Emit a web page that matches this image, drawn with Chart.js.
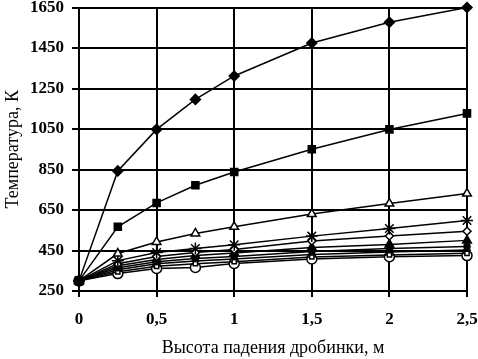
<!DOCTYPE html>
<html>
<head>
<meta charset="utf-8">
<script src="https://cdn.jsdelivr.net/npm/chart.js@4"></script>
<style>
  html, body { margin: 0; padding: 0; background: #fff; }
  #wrap { width: 478px; height: 359px; }
</style>
</head>
<body>
<div id="wrap"><canvas id="chartcanvas" width="478" height="359"></canvas></div>
<script>
// drop heights, m
const heights = [0, 0.25, 0.5, 0.75, 1, 1.5, 2, 2.5];

// temperatures, K
const sDiamond  = [300, 843, 1048, 1196, 1312, 1475, 1577, 1650];
const sSquare   = [300, 567, 685, 772, 838, 950, 1048, 1127];
const sTriOpen  = [300, 435, 492, 534, 567, 630, 682, 731];
const sStar     = [300, 400, 440, 460, 478, 521, 559, 598];
const sDiaOpen  = [300, 385, 420, 440, 455, 497, 522, 545];
const sTriFill  = [300, 375, 405, 425, 438, 465, 480, 500];
const sCircFill = [300, 365, 395, 410, 420, 445, 460, 470];
const sDash     = [300, 355, 385, 398, 408, 430, 443, 452];
const sLine     = [300, 345, 372, 385, 395, 418, 428, 436];
const sCircOpen = [300, 336, 361, 366, 386, 408, 419, 425];

const yTicks = [250, 450, 650, 850, 1050, 1250, 1450, 1650];

const canvas = document.getElementById('chartcanvas');
const ctx = canvas.getContext('2d');

function pts(values){
  return values.map((v, i) => ({x: heights[i], y: v}));
}

function series(values, style, filled, radius){
  return {
    data: pts(values),
    borderColor: '#000',
    borderWidth: 1.5,
    pointStyle: style,
    pointRadius: radius,
    pointBorderWidth: 1.5,
    pointBorderColor: '#000',
    pointBackgroundColor: filled ? '#000' : '#fff',
    tension: 0,
    fill: false
  };
}

const serif = 'Liberation Serif, Times New Roman, serif';

new Chart(ctx, {
  type: 'line',
  data: {
    datasets: [
      series(sDiamond, 'rectRot', true, 5),
      series(sSquare, 'rect', true, 5),
      series(sTriOpen, 'triangle', false, 5),
      series(sStar, 'star', false, 6),
      series(sDiaOpen, 'rectRot', false, 4),
      series(sTriFill, 'triangle', true, 5),
      series(sCircFill, 'circle', true, 3),
      series(sDash, 'line', false, 4),
      series(sLine, 'rect', false, 3),
      series(sCircOpen, 'circle', false, 5)
    ]
  },
  options: {
    responsive: false,
    animation: false,
    clip: false,
    layout: { padding: { top: 7, right: 11, left: 0, bottom: 0 } },
    plugins: { legend: { display: false }, tooltip: { enabled: false } },
    scales: {
      x: {
        type: 'linear',
        min: 0,
        max: 2.5,
        border: { color: '#000', width: 2 },
        grid: { color: '#000', lineWidth: 2, tickLength: 6, tickColor: '#000' },
        ticks: {
          stepSize: 0.5,
          color: '#000',
          padding: 12,
          font: { family: serif, size: 17, weight: 'bold' },
          callback: v => String(v).replace('.', ',')
        },
        title: {
          display: true,
          text: 'Высота падения дробинки, м',
          color: '#000',
          padding: { top: 0, bottom: 0 },
          font: { family: serif, size: 18 }
        },
        afterFit: scale => {
          scale.height = 68;
          scale.paddingLeft = 0;
          scale.paddingRight = 0;
        }
      },
      y: {
        type: 'linear',
        min: 250,
        max: 1650,
        border: { color: '#000', width: 2 },
        grid: { color: '#000', lineWidth: 2, tickLength: 7, tickColor: '#000' },
        afterBuildTicks: scale => { scale.ticks = yTicks.map(v => ({value: v})); },
        ticks: {
          color: '#000',
          padding: 8,
          font: { family: serif, size: 17, weight: 'bold' },
          callback: v => String(v)
        },
        title: {
          display: true,
          text: 'Температура, К',
          color: '#000',
          padding: { bottom: 0, top: 2 },
          font: { family: serif, size: 18 }
        },
        afterFit: scale => {
          scale.width = 79;
          scale.paddingTop = 0;
          scale.paddingBottom = 0;
        }
      }
    }
  }
});
</script>
</body>
</html>
